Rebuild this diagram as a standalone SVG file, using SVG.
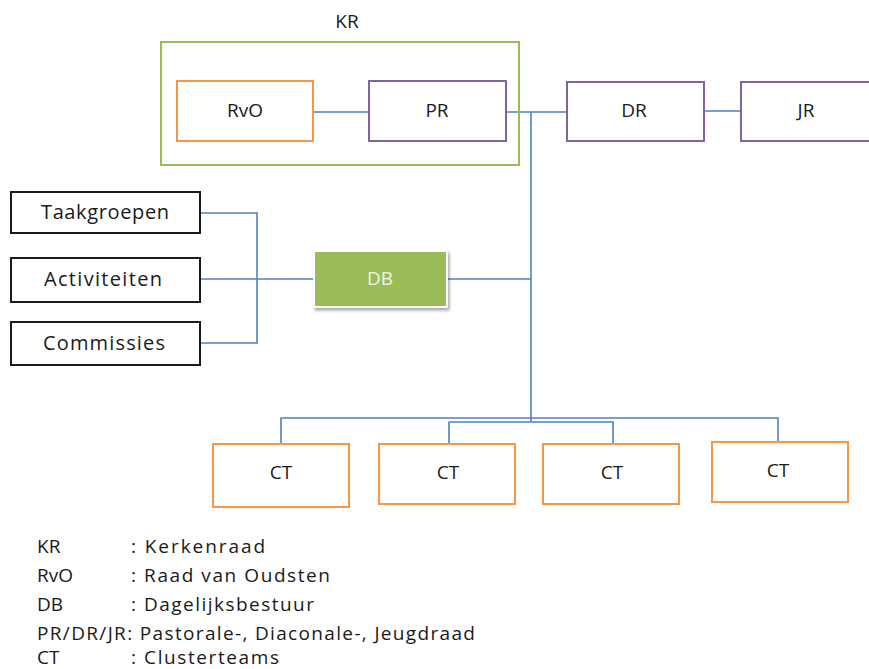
<svg xmlns="http://www.w3.org/2000/svg" width="869" height="669" viewBox="0 0 869 669">
<defs>
<style>
text{font-family:"Open Sans","Liberation Sans",Arial,sans-serif;font-size:19px;fill:#1a1a1a;}
.c{text-anchor:middle;dominant-baseline:central;}
.bx{fill:#fff;stroke-width:2;}
.or{stroke:#F79646;}
.pu{stroke:#8064A2;}
.gr{stroke:#9BBB59;fill:none;}
.bk{stroke:#1a1a1a;}
.ln{fill:none;stroke:#4F81BD;stroke-width:1.6;}
.sd{font-size:20px;}
.lg{font-size:19px;}
</style>
<filter id="sh" x="-10%" y="-10%" width="130%" height="140%">
<feDropShadow dx="1.5" dy="2.5" stdDeviation="1.5" flood-color="#000" flood-opacity="0.35"/>
</filter>
</defs>
<rect width="869" height="669" fill="#fff"/>
<g id="connectors">
<path class="ln" d="M313 112H369"/>
<path class="ln" d="M506 112H567"/>
<path class="ln" d="M704 111H741"/>
<path class="ln" d="M531 112V422"/>
<path class="ln" d="M447 279H531"/>
<path class="ln" d="M200 213H257V343H200"/>
<path class="ln" d="M200 279H314"/>
<path class="ln" d="M281 444V418H778V442"/>
<path class="ln" d="M449 444V422H613V444"/>
</g>
<g id="KR">
<rect class="gr" x="161" y="42" width="358" height="123" stroke-width="2"/>
<text class="c" x="347" y="21">KR</text>
</g>
<g id="RvO"><rect class="bx or" x="177" y="81" width="136" height="60"/><text class="c" x="245" y="110">RvO</text></g>
<g id="PR"><rect class="bx pu" x="369" y="81" width="137" height="60"/><text class="c" x="437" y="110">PR</text></g>
<g id="DR"><rect class="bx pu" x="567" y="82" width="137" height="59"/><text class="c" x="634" y="110">DR</text></g>
<g id="JR"><rect class="bx pu" x="741" y="82" width="140" height="59"/><text class="c" x="806" y="110">JR</text></g>
<g id="Taakgroepen"><rect class="bx bk" x="11" y="192" width="189" height="41"/><text class="c sd" x="105" y="211" textLength="128" lengthAdjust="spacing">Taakgroepen</text></g>
<g id="Activiteiten"><rect class="bx bk" x="11" y="258" width="189" height="44"/><text class="c sd" x="103" y="278" textLength="118" lengthAdjust="spacing">Activiteiten</text></g>
<g id="Commissies"><rect class="bx bk" x="11" y="322" width="189" height="43"/><text class="c sd" x="104" y="342" textLength="122" lengthAdjust="spacing">Commissies</text></g>
<g id="DB"><rect x="313" y="250" width="135" height="58" fill="#fff" filter="url(#sh)"/><rect x="315" y="252" width="131" height="54" fill="#9BBB59"/><text class="c" x="380" y="278" style="fill:#eef4e4">DB</text></g>
<g id="CT1"><rect class="bx or" x="213" y="444" width="136" height="63"/><text class="c" x="281" y="472">CT</text></g>
<g id="CT2"><rect class="bx or" x="379" y="444" width="136" height="60"/><text class="c" x="448" y="472">CT</text></g>
<g id="CT3"><rect class="bx or" x="543" y="444" width="136" height="60"/><text class="c" x="612" y="472">CT</text></g>
<g id="CT4"><rect class="bx or" x="712" y="442" width="136" height="60"/><text class="c" x="778" y="470">CT</text></g>
<g id="legend">
<text class="lg" x="37" y="553">KR</text><text class="lg" x="131" y="553" textLength="134" lengthAdjust="spacing">: Kerkenraad</text>
<text class="lg" x="37" y="582">RvO</text><text class="lg" x="131" y="582" textLength="199" lengthAdjust="spacing">: Raad van Oudsten</text>
<text class="lg" x="37" y="611">DB</text><text class="lg" x="131" y="611" textLength="183" lengthAdjust="spacing">: Dagelijksbestuur</text>
<text class="lg" x="37" y="640" textLength="438" lengthAdjust="spacing">PR/DR/JR: Pastorale-, Diaconale-, Jeugdraad</text>
<text class="lg" x="37" y="664">CT</text><text class="lg" x="131" y="664" textLength="148" lengthAdjust="spacing">: Clusterteams</text>
</g>
</svg>
